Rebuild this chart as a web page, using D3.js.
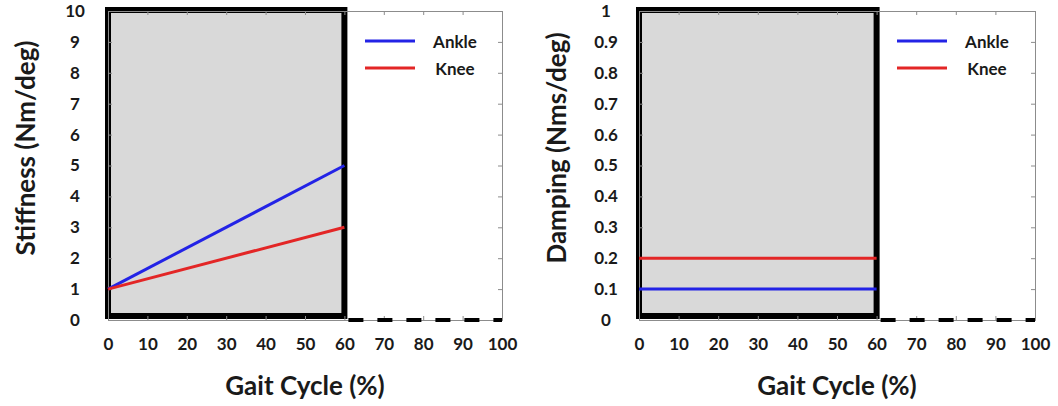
<!DOCTYPE html>
<html>
<head>
<meta charset="utf-8">
<script src="https://cdn.jsdelivr.net/npm/d3@7"></script>
<style>
  body { margin: 0; background: #fff; }
  text { font-family: Lato, "Open Sans", sans-serif; font-weight: bold; fill: #1a1a1a; }
</style>
</head>
<body>
<div id="chart"></div>
<script>
// Data
var gaitPct = [0, 60];
var ankleStiffness = [1, 5];
var kneeStiffness = [1, 3];
var ankleDamping = [0.1, 0.1];
var kneeDamping = [0.2, 0.2];
var xTicks = [0, 10, 20, 30, 40, 50, 60, 70, 80, 90, 100];
var stiffTicks = [0, 1, 2, 3, 4, 5, 6, 7, 8, 9, 10];
var dampTicks = [0, 0.1, 0.2, 0.3, 0.4, 0.5, 0.6, 0.7, 0.8, 0.9, 1];
var seriesNames = ["Ankle", "Knee"];
var seriesColors = ["#2323e6", "#e32626"];

var svgWidth = 1058;
var svgHeight = 406;

var svg = d3.select("#chart")
  .append("svg")
  .attr("width", svgWidth)
  .attr("height", svgHeight);

function drawPanel(opts) {
  var x = d3.scaleLinear().domain([0, 100]).range([opts.left, opts.right]);
  var y = d3.scaleLinear().domain([0, opts.yMax]).range([320, 11]);
  var g = svg.append("g");

  // shaded active window with thick border
  g.append("rect")
    .attr("x", x(gaitPct[0]))
    .attr("y", y(opts.yMax) - 1)
    .attr("width", x(gaitPct[1]) - x(gaitPct[0]))
    .attr("height", y(0) - y(opts.yMax) - 3)
    .attr("fill", "#d9d9d9")
    .attr("stroke", "#000")
    .attr("stroke-width", 6);

  // axes frame (thin, ticks inward)
  var bottomAxis = d3.axisBottom(x).tickValues(xTicks).tickSize(-4).tickPadding(18).tickFormat(d3.format("d"));
  var topAxis = d3.axisTop(x).tickValues(xTicks).tickSize(-4).tickFormat("");
  var leftAxis = d3.axisLeft(y).tickValues(opts.yTicks).tickSize(-4).tickFormat(opts.fmt);
  var rightAxis = d3.axisRight(y).tickValues(opts.yTicks).tickSize(-4).tickFormat("");

  var gb = g.append("g").attr("transform", `translate(0, ${y(0)})`).call(bottomAxis);
  var gt = g.append("g").attr("transform", `translate(0, ${y(opts.yMax)})`).call(topAxis);
  var gl = g.append("g").attr("transform", `translate(${x(0)}, 0)`).call(leftAxis);
  var gr = g.append("g").attr("transform", `translate(${x(100)}, 0)`).call(rightAxis);

  [gb, gt, gl, gr].forEach(function(a) {
    a.select(".domain").attr("stroke", "#8c8c8c");
    a.selectAll(".tick line").attr("stroke", "#8c8c8c");
    a.selectAll("text").attr("font-size", "17px").attr("fill", "#1a1a1a");
  });
  gl.selectAll(".tick text").attr("x", -33).attr("text-anchor", "middle");

  // dashed remainder of the cycle
  g.append("line")
    .attr("x1", x(gaitPct[1]) + 4)
    .attr("x2", x(100))
    .attr("y1", y(0))
    .attr("y2", y(0))
    .attr("stroke", "#000")
    .attr("stroke-width", 4)
    .attr("stroke-dasharray", "15,14");

  // series lines
  var line = d3.line().x(d => x(d[0])).y(d => y(d[1]));
  opts.series.forEach(function(vals, i) {
    g.append("path")
      .datum(gaitPct.map((p, j) => [p, vals[j]]))
      .attr("d", line)
      .attr("fill", "none")
      .attr("stroke", seriesColors[i])
      .attr("stroke-width", 3);
  });

  // legend
  seriesNames.forEach(function(name, i) {
    var ly = 41 + i * 27;
    g.append("line")
      .attr("x1", opts.legendX)
      .attr("x2", opts.legendX + 50)
      .attr("y1", ly).attr("y2", ly)
      .attr("stroke", seriesColors[i])
      .attr("stroke-width", 3);
    g.append("text")
      .attr("x", opts.legendX + 90)
      .attr("y", ly + 1)
      .attr("dy", "0.35em")
      .attr("text-anchor", "middle")
      .attr("font-size", "17px")
      .text(name);
  });

  // axis titles
  g.append("text")
    .attr("transform", `translate(${opts.yLabelX}, 148) rotate(-90)`)
    .attr("text-anchor", "middle")
    .attr("dy", "0.35em")
    .attr("font-size", "26px")
    .text(opts.yLabel);

  g.append("text")
    .attr("x", (x(0) + x(100)) / 2)
    .attr("y", 395)
    .attr("text-anchor", "middle")
    .attr("font-size", "26px")
    .text("Gait Cycle (%)");
}

drawPanel({
  left: 108, right: 502, yMax: 10, yTicks: stiffTicks, fmt: d3.format("d"),
  series: [ankleStiffness, kneeStiffness], legendX: 365,
  yLabel: "Stiffness (Nm/deg)", yLabelX: 26
});

drawPanel({
  left: 639, right: 1035, yMax: 1, yTicks: dampTicks, fmt: d => d === 0 || d === 1 ? d3.format("d")(d) : d3.format(".1f")(d),
  series: [ankleDamping, kneeDamping], legendX: 897,
  yLabel: "Damping (Nms/deg)", yLabelX: 557
});
</script>
</body>
</html>
